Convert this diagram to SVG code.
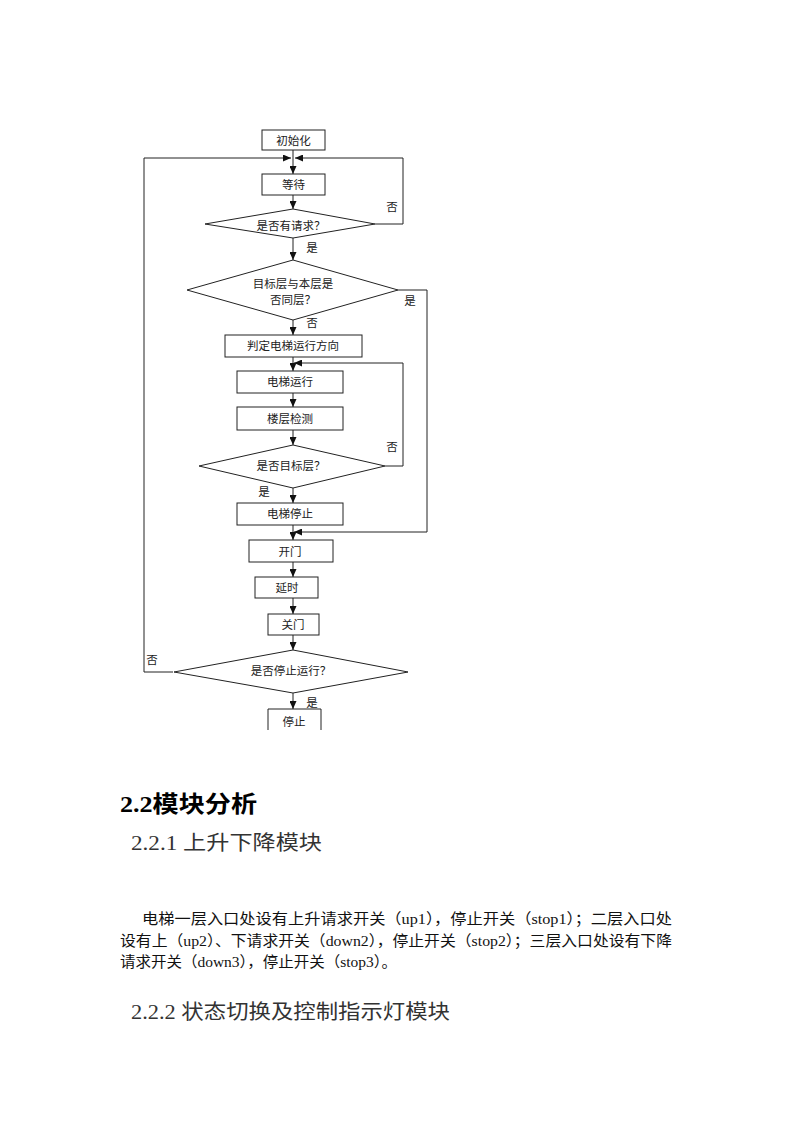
<svg xmlns="http://www.w3.org/2000/svg" width="793" height="1122" viewBox="0 0 793 1122">
<style>
.box{fill:#fff;stroke:#222;stroke-width:1}
.dia{fill:#fff;stroke:#222;stroke-width:1}
.ln{fill:none;stroke:#222;stroke-width:1}
.t{font-family:"Noto Sans CJK SC","Noto Sans",sans-serif;font-size:11.5px;fill:#222;text-anchor:middle}
.lb{font-family:"Noto Sans CJK SC","Noto Sans",sans-serif;font-size:11.5px;fill:#222;text-anchor:middle}
.h1{font-family:"Liberation Serif","Noto Sans CJK SC",serif;font-size:23px;font-weight:bold;fill:#000}
.h2{font-family:"Liberation Serif","Noto Sans CJK SC",serif;font-size:20px;fill:#333}
.p{font-family:"Liberation Serif","Noto Sans CJK SC",serif;font-size:15px;fill:#111}
</style>
<defs>
<marker id="ar" markerUnits="userSpaceOnUse" markerWidth="8" markerHeight="7" refX="8" refY="3.5" orient="auto">
<path d="M0,0 L8,3.5 L0,7 z" fill="#111"/>
</marker>
</defs>
<rect width="793" height="1122" fill="#fff"/>
<g id="connectors">
<path class="ln" d="M293,150 V174" marker-end="url(#ar)"/>
<path class="ln" d="M173,672 H144 V158 H291" marker-end="url(#ar)"/>
<path class="ln" d="M375,224 H403 V158 H295" marker-end="url(#ar)"/>
<path class="ln" d="M293,195 V209" marker-end="url(#ar)"/>
<path class="ln" d="M293,238 V260" marker-end="url(#ar)"/>
<path class="ln" d="M398,290 H427 V532 H294" marker-end="url(#ar)"/>
<path class="ln" d="M293,320 V335" marker-end="url(#ar)"/>
<path class="ln" d="M293,357 V371" marker-end="url(#ar)"/>
<path class="ln" d="M293,393 V407" marker-end="url(#ar)"/>
<path class="ln" d="M293,430 V445" marker-end="url(#ar)"/>
<path class="ln" d="M385,466 H403 V363 H294" marker-end="url(#ar)"/>
<path class="ln" d="M293,488 V503" marker-end="url(#ar)"/>
<path class="ln" d="M293,525 V540" marker-end="url(#ar)"/>
<path class="ln" d="M293,562 V577" marker-end="url(#ar)"/>
<path class="ln" d="M293,598 V614" marker-end="url(#ar)"/>
<path class="ln" d="M293,635 V650" marker-end="url(#ar)"/>
<path class="ln" d="M293,693 V709" marker-end="url(#ar)"/>
<text class="lb" x="392" y="211">否</text>
<text class="lb" x="312" y="252">是</text>
<text class="lb" x="410" y="305">是</text>
<text class="lb" x="312" y="327">否</text>
<text class="lb" x="392" y="451">否</text>
<text class="lb" x="264" y="496">是</text>
<text class="lb" x="152" y="664">否</text>
<text class="lb" x="312" y="707">是</text>
</g>
<g id="n-init"><rect class="box" x="262" y="130" width="63" height="20"/><text class="t" x="293.5" y="145">初始化</text></g>
<g id="n-wait"><rect class="box" x="262" y="174" width="63" height="21"/><text class="t" x="293.5" y="189">等待</text></g>
<g id="n-req"><polygon class="dia" points="293,209 375,224 293,238 205,224"/><text class="t" x="291" y="230">是否有请求？</text></g>
<g id="n-same"><polygon class="dia" points="293,260 398,290 293,320 187,290"/><text class="t" x="293" y="288">目标层与本层是</text><text class="t" x="293" y="304">否同层？</text></g>
<g id="n-dir"><rect class="box" x="225" y="335" width="137" height="22"/><text class="t" x="293" y="349.5">判定电梯运行方向</text></g>
<g id="n-run"><rect class="box" x="237" y="371" width="106" height="22"/><text class="t" x="290" y="386">电梯运行</text></g>
<g id="n-detect"><rect class="box" x="237" y="407" width="106" height="23"/><text class="t" x="290" y="422.5">楼层检测</text></g>
<g id="n-target"><polygon class="dia" points="293,445 385,466 293,488 199,466"/><text class="t" x="291" y="469.5">是否目标层？</text></g>
<g id="n-stopel"><rect class="box" x="237" y="503" width="106" height="22"/><text class="t" x="290" y="518">电梯停止</text></g>
<g id="n-open"><rect class="box" x="249" y="540" width="84" height="22"/><text class="t" x="290" y="555.5">开门</text></g>
<g id="n-delay"><rect class="box" x="255" y="577" width="63" height="21"/><text class="t" x="287" y="591.5">延时</text></g>
<g id="n-close"><rect class="box" x="268" y="614" width="51" height="21"/><text class="t" x="293" y="628.5">关门</text></g>
<g id="n-stopq"><polygon class="dia" points="293,650 408,672 293,693 174,672"/><text class="t" x="291" y="674.5">是否停止运行？</text></g>
<g id="n-stop"><path class="ln" d="M268,730 V709 H321 V730"/><text class="t" x="294" y="725.5">停止</text></g>
<text class="h1" x="120" y="812" textLength="137" lengthAdjust="spacingAndGlyphs">2.2模块分析</text>
<text class="h2" x="131" y="850" textLength="191" lengthAdjust="spacingAndGlyphs">2.2.1 上升下降模块</text>
<text class="p" x="142" y="924" textLength="530" lengthAdjust="spacingAndGlyphs">电梯一层入口处设有上升请求开关（up1），停止开关（stop1）；二层入口处</text>
<text class="p" x="120" y="945.5" textLength="552" lengthAdjust="spacingAndGlyphs">设有上（up2）、下请求开关（down2），停止开关（stop2）；三层入口处设有下降</text>
<text class="p" x="120" y="966.5" textLength="277" lengthAdjust="spacingAndGlyphs">请求开关（down3），停止开关（stop3）。</text>
<text class="h2" x="131" y="1019" textLength="319" lengthAdjust="spacingAndGlyphs">2.2.2 状态切换及控制指示灯模块</text>
</svg>
